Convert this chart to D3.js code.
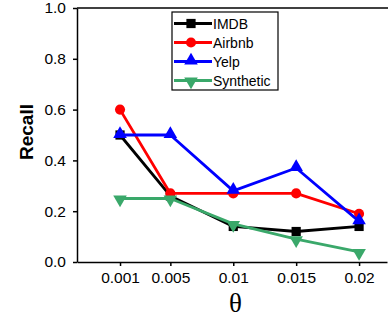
<!DOCTYPE html>
<html>
<head>
<meta charset="utf-8">
<script src="https://cdn.jsdelivr.net/npm/d3@7"></script>
<style>
  body { margin: 0; background: #fff; }
  svg { display: block; font-family: "Liberation Sans", Arial, sans-serif; }
</style>
</head>
<body>
<div id="chart"></div>
<script>
// thresholds on the x axis
var thetas = [0.001, 0.005, 0.01, 0.015, 0.02];
var thetaLabels = ["0.001", "0.005", "0.01", "0.015", "0.02"];
var yTicks = [0.0, 0.2, 0.4, 0.6, 0.8, 1.0];

// recall per dataset
var imdb      = [0.50, 0.26, 0.14, 0.12, 0.14];
var airbnb    = [0.60, 0.27, 0.27, 0.27, 0.19];
var yelp      = [0.50, 0.50, 0.28, 0.37, 0.16];
var synthetic = [0.25, 0.25, 0.15, 0.09, 0.04];

var seriesNames = ["IMDB", "Airbnb", "Yelp", "Synthetic"];
var seriesColors = ["#000000", "#ff0000", "#0000ff", "#3aa86a"];
var seriesShapes = ["square", "circle", "triangle", "triangleDown"];

var series = [imdb, airbnb, yelp, synthetic].map(function(vals, i) {
    return {
        name: seriesNames[i], color: seriesColors[i], shape: seriesShapes[i],
        values: vals.map(function(v, j) { return {x: thetas[j], y: v}; })
    };
});

var width = 388, height = 320;
var margin = {top: 8, right: 1, bottom: 58, left: 77};

var svg = d3.select("#chart").append("svg")
    .attr("width", width).attr("height", height);

var x = d3.scaleLinear()
    .domain([-0.00242, 0.02222])
    .range([margin.left, width - margin.right]);
var y = d3.scaleLinear()
    .domain([0, 1])
    .range([height - margin.bottom, margin.top]);

// marker symbols
function symbolFor(shape) {
    if (shape == "square") return d3.symbol().type(d3.symbolSquare).size(85)();
    if (shape == "circle") return d3.symbol().type(d3.symbolCircle).size(80)();
    return d3.symbol().type(d3.symbolTriangle).size(80)();
}
function symbolTransform(shape, px, py) {
    var t = "translate(" + px + "," + py + ")";
    if (shape == "triangle") t += " translate(0,-1)";
    if (shape == "triangleDown") t += " translate(0,1) rotate(180)";
    return t;
}

// axes
var xAxis = d3.axisBottom(x).tickValues(thetas)
    .tickFormat(function(d, i) { return thetaLabels[i]; })
    .tickSize(4).tickSizeOuter(0).tickPadding(6);
var yAxis = d3.axisLeft(y).tickValues(yTicks)
    .tickFormat(d3.format(".1f"))
    .tickSize(4).tickSizeOuter(0).tickPadding(7);

var gx = svg.append("g")
    .attr("transform", "translate(0," + y(0) + ")")
    .call(xAxis);
var gy = svg.append("g")
    .attr("transform", "translate(" + margin.left + ",0)")
    .call(yAxis);

[gx, gy].forEach(function(g) {
    g.selectAll("path.domain").attr("stroke", "#000").attr("stroke-width", 1.5);
    g.selectAll(".tick line").attr("stroke", "#000").attr("stroke-width", 1.5);
    g.selectAll(".tick text").attr("fill", "#000")
        .style("font-size", "15.5px")
        .style("font-family", "'Liberation Sans', Arial, sans-serif");
});

// top frame line
svg.append("line")
    .attr("x1", margin.left).attr("x2", width)
    .attr("y1", y(1)).attr("y2", y(1))
    .attr("stroke", "#000").attr("stroke-width", 1.5);

// axis titles
svg.append("text")
    .attr("transform", "translate(33,132) rotate(-90)")
    .attr("text-anchor", "middle")
    .style("font-size", "19px").style("font-weight", "bold")
    .text("Recall");

svg.append("text")
    .attr("x", 235.5).attr("y", 312)
    .attr("text-anchor", "middle")
    .style("font-family", "'Liberation Serif', 'Times New Roman', serif")
    .style("font-size", "27px")
    .text("θ");

// lines and markers
var line = d3.line()
    .x(function(d) { return x(d.x); })
    .y(function(d) { return y(d.y); });

var plot = svg.append("g");
series.forEach(function(s) {
    var g = plot.append("g");
    g.append("path")
        .datum(s.values)
        .attr("fill", "none")
        .attr("stroke", s.color)
        .attr("stroke-width", 2.8)
        .attr("stroke-linejoin", "round")
        .attr("d", line);
    g.selectAll("path.mark")
        .data(s.values)
        .enter().append("path")
        .attr("class", "mark")
        .attr("d", symbolFor(s.shape))
        .attr("transform", function(d) { return symbolTransform(s.shape, x(d.x), y(d.y)); })
        .attr("fill", s.color);
});

// legend
var legend = svg.append("g").attr("transform", "translate(172,12)");
legend.append("rect")
    .attr("width", 106).attr("height", 78)
    .attr("fill", "#fff").attr("stroke", "#000").attr("stroke-width", 1.2);
series.forEach(function(s, i) {
    var ry = 11.5 + i * 19;
    var row = legend.append("g").attr("transform", "translate(0," + ry + ")");
    row.append("line")
        .attr("x1", 2).attr("x2", 40).attr("y1", 0).attr("y2", 0)
        .attr("stroke", s.color).attr("stroke-width", 2.8);
    row.append("path")
        .attr("d", symbolFor(s.shape))
        .attr("transform", symbolTransform(s.shape, 19, 0))
        .attr("fill", s.color);
    row.append("text")
        .attr("x", 41).attr("y", 5)
        .style("font-size", "14px")
        .text(s.name);
});
</script>
</body>
</html>
